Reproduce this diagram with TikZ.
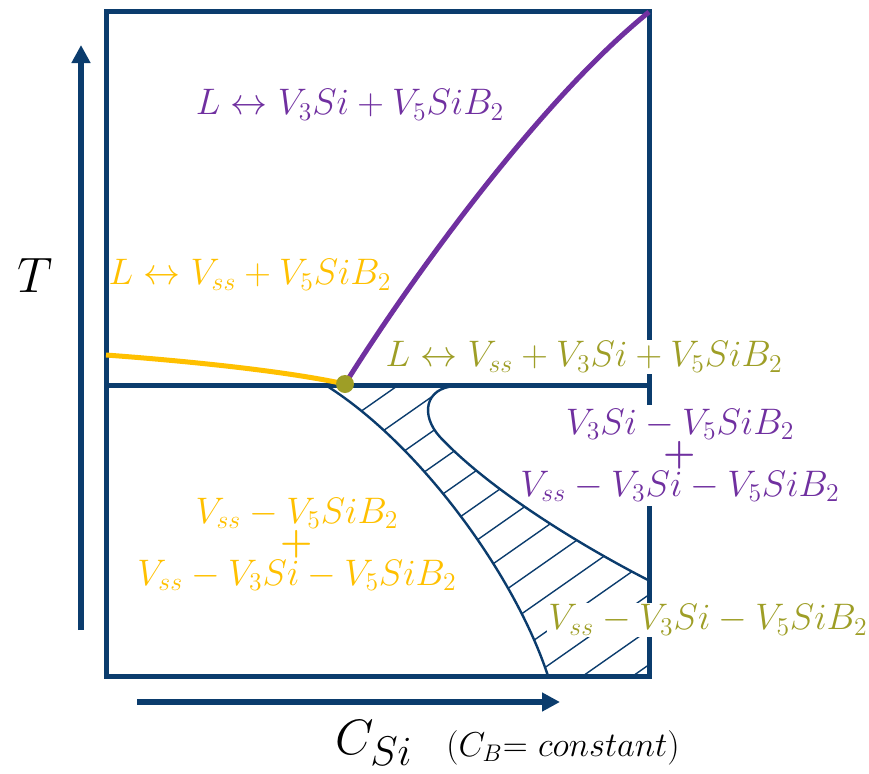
\documentclass[tikz,border=0pt]{standalone}
\usetikzlibrary{arrows.meta}

\definecolor{navy}{HTML}{0B3C6D}
\definecolor{violet}{HTML}{7030A0}
\definecolor{gold}{HTML}{FFC000}
\definecolor{olive}{HTML}{9E9E26}

\begin{document}
\begin{tikzpicture}[x=0.5pt, y=-0.5pt, >=Latex,
    frame/.style={draw=navy, line width=2.5pt},
    axis/.style={draw=navy, line width=3pt, -{Triangle[length=9pt,width=9pt]}},
    bound/.style={draw=navy, line width=1.2pt},
    hatchline/.style={draw=navy, line width=0.7pt},
    lbl/.style={font=\fontsize{20.74}{23.5}\selectfont, scale=0.89, inner sep=1pt},
    stack/.style={lbl, align=center, inner sep=2pt, anchor=north},
    mask/.style={fill=white}]
  \useasboundingbox (0,0) rectangle (869,773);
  % box and eutectic line
  \draw[frame] (106,11) rectangle (649,676);
  \draw[frame] (106,385) -- (649,385);
  % axes
  \coordinate (tlow) at (81,630);
  \coordinate (thigh) at (81,45);
  \coordinate (cleft) at (137,702);
  \coordinate (cright) at (560,702);
  \draw[axis] (tlow) -- (thigh);
  \draw[axis] (cleft) -- (cright);
  \node (tlabel) at (35,275) [font=\fontsize{24.88}{26}\selectfont] {$T$};
  \node (clabel) at (374,743) [font=\fontsize{24.88}{26}\selectfont] {$C_{Si}$};
  \node (cnote) at (563,748) [font=\fontsize{17.28}{19}\selectfont] {$(C_B{=}\ constant)$};
  % labels that break the right edge
  \node (lvv) at (584,357) [lbl, mask, text=olive]
    {$L \leftrightarrow V_{ss} + V_3Si + V_5SiB_2$};
  \node (vmix) at (680,405) [stack, mask, text=violet]
    {$V_3Si - V_5SiB_2$\\[-6.5pt]\textbf{+}\\[-5.5pt]$V_{ss} - V_3Si - V_5SiB_2$};
  % liquidus curves
  \coordinate (eut) at (345,384);
  \draw[gold, line width=2.5pt] (106,355) .. controls (200,362) and (290,372) .. (eut);
  \draw[violet, line width=2.5pt] (eut) .. controls (410,280) and (540,100) .. (649,12);
  % hatched field
  \begin{scope}
    \clip (327,386) -- (455,386) .. controls (425,388) and (420,415) .. (440,437)
      .. controls (490,490) and (580,545) .. (648,580) -- (648,676) -- (548,676)
      .. controls (515,575) and (420,445) .. (327,386) -- cycle;
    \foreach \c in {664,699,...,1160}
      \draw[hatchline] (300,{\c-210}) -- (700,{\c-490});
  \end{scope}
  \draw[bound] (327,386) .. controls (420,445) and (515,575) .. (548,676);
  \draw[bound] (455,386) .. controls (425,388) and (420,415) .. (440,437)
    .. controls (490,490) and (580,545) .. (648,580);
  \fill[olive] (eut) circle (9);
  % other labels
  \node (lv3) at (350,105) [lbl, text=violet] {$L \leftrightarrow V_3Si + V_5SiB_2$};
  \node (lvss) at (250,275) [lbl, text=gold] {$L \leftrightarrow V_{ss} + V_5SiB_2$};
  \node (vssmix) at (297,494) [stack, text=gold]
    {$V_{ss} - V_5SiB_2$\\[-6.5pt]\textbf{+}\\[-5.5pt]$V_{ss} - V_3Si - V_5SiB_2$};
  \node (vthree) at (708,620) [lbl, mask, text=olive] {$V_{ss} - V_3Si - V_5SiB_2$};
\end{tikzpicture}
\end{document}
